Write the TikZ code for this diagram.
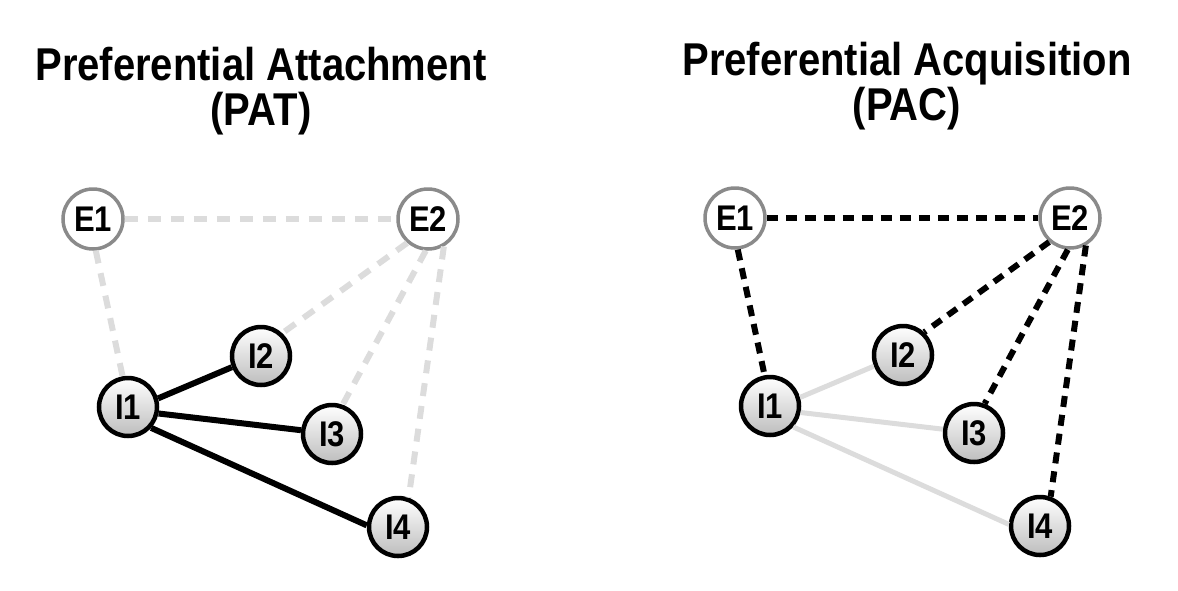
\documentclass[tikz,border=0pt]{standalone}
\usepackage{fontspec}
\setmainfont{Liberation Sans}
\usetikzlibrary{shadows}
\definecolor{egray}{HTML}{8A8A8A}
\definecolor{lgray}{HTML}{DCDCDC}
\definecolor{ibot}{HTML}{BDBDBD}
\newcommand{\talltext}[1]{\scalebox{1}[1.15]{#1}}
\tikzset{
  enode/.style={circle, minimum size=60pt, inner sep=0pt, draw=egray, line width=3.5pt, fill=white,
    font=\fontsize{31}{34}\selectfont\bfseries},
  inode/.style={circle, minimum size=58pt, inner sep=0pt, draw=black, line width=4.5pt,
    top color=white, bottom color=ibot, drop shadow={opacity=0.2, shadow xshift=1pt, shadow yshift=-2pt},
    font=\fontsize{31}{34}\selectfont\bfseries},
  title/.style={anchor=base, font=\fontsize{40}{46}\selectfont\bfseries},
  strong/.style={draw=black, line width=6pt},
  weak/.style={draw=lgray, line width=5pt},
  gdash/.style={draw=lgray, line width=6pt, dash pattern=on 13pt off 10pt},
  bdash/.style={draw=black, line width=6pt, dash pattern=on 11pt off 8pt},
}
\begin{document}
\begin{tikzpicture}[x=1pt, y=-1pt]
\useasboundingbox (0,0) rectangle (1178,590);
% titles
\node[title] (ta1) at (261,80) {\talltext{Preferential Attachment}};
\node[title] (ta2) at (261,125) {\talltext{(PAT)}};
\node[title] (tb1) at (907,75) {\talltext{Preferential Acquisition}};
\node[title] (tb2) at (907,120) {\talltext{(PAC)}};
% left graph
\node[enode] (aE1) at (93,219) {\talltext{E1}};
\node[enode] (aE2) at (428,219) {\talltext{E2}};
\node[inode] (aI1) at (128,407) {\talltext{I1}};
\node[inode] (aI2) at (261,356) {\talltext{I2}};
\node[inode] (aI3) at (332,434) {\talltext{I3}};
\node[inode] (aI4) at (398,527) {\talltext{I4}};
\draw[gdash] (aE1.east) -- (aE2.west);
\draw[gdash] (aE1.-85) -- (aI1.100);
\draw[gdash] (aE2.229) -- (aI2.47);
\draw[gdash] (aE2.-94) -- (aI3.70);
\draw[gdash] (aE2.-60) -- (aI4.70);
\draw[strong] (aI1.16) -- (aI2.201);
\draw[strong] (aI1.-12) -- (aI3.173);
\draw[strong] (aI1.-42) -- (aI4.177);
% right graph
\node[enode] (bE1) at (735,218) {\talltext{E1}};
\node[enode] (bE2) at (1070,218) {\talltext{E2}};
\node[inode] (bI1) at (770,406) {\talltext{I1}};
\node[inode] (bI2) at (903,355) {\talltext{I2}};
\node[inode] (bI3) at (974,433) {\talltext{I3}};
\node[inode] (bI4) at (1040,526) {\talltext{I4}};
\draw[bdash] (bE1.east) -- (bE2.west);
\draw[bdash] (bE1.-85) -- (bI1.100);
\draw[bdash] (bE2.229) -- (bI2.47);
\draw[bdash] (bE2.-94) -- (bI3.70);
\draw[bdash] (bE2.-60) -- (bI4.70);
\draw[weak] (bI1.16) -- (bI2.201);
\draw[weak] (bI1.-12) -- (bI3.173);
\draw[weak] (bI1.-42) -- (bI4.177);
\end{tikzpicture}
\end{document}
